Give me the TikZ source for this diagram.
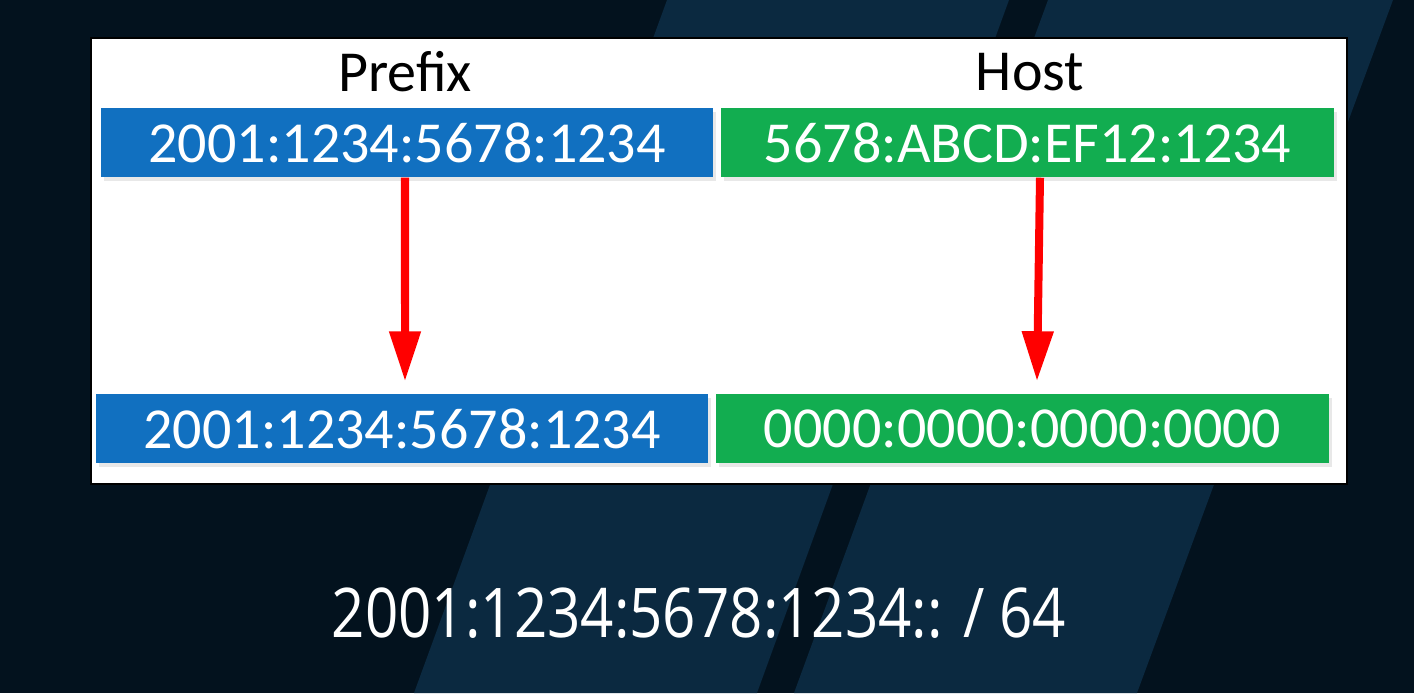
\documentclass[tikz,border=0pt]{standalone}
\usepackage{fontspec}
\setmainfont{Carlito}
\newfontfamily\notefont[FakeStretch=0.85]{Open Sans}
\usepackage{xcolor}
\usetikzlibrary{arrows.meta,shadows}
\definecolor{IPNight}{HTML}{03121E}
\definecolor{IPBand}{HTML}{0B2940}
\definecolor{IPBlue}{HTML}{1170C0}
\definecolor{IPGreen}{HTML}{12AD50}
\definecolor{IPRed}{HTML}{FF0000}

\begin{document}
\begin{tikzpicture}[x=0.01cm,y=-0.01cm,
  part/.style={font=\fontsize{16.5}{18}\selectfont},
  field/.style={minimum width=6.12cm,minimum height=0.69cm,inner sep=0pt,
    text=white,font=\fontsize{16.5}{18}\selectfont,
    drop shadow={opacity=0.18,shadow xshift=0.03cm,shadow yshift=-0.04cm}},
  keep/.style={line width=0.08cm,IPRed,-{Triangle[width=0.3cm,length=0.5cm]}}]
\path[use as bounding box] (0,0) rectangle (1414,693);
% background
\fill[IPNight] (0,0) rectangle (1414,693);
\fill[IPBand] (667,0) -- (1009,0) -- (757,693) -- (414,693) -- cycle;
\fill[IPBand] (1048,0) -- (1393,0) -- (1137,693) -- (794,693) -- cycle;
% panel
\filldraw[fill=white,draw=black,line width=0.02cm] (91,38) rectangle (1347,484);
\node[part] (prefix) at (405,72) {Prefix};
\node[part] (host) at (1030,72) {Host};
\node[field,fill=IPBlue] (ptop) at (407,142.5) {2001:1234:5678:1234};
\node[field,fill=IPGreen] (htop) at (1027.5,142.5) {5678:ABCD:EF12:1234};
\node[field,fill=IPBlue] (pbot) at (402,428.5) {2001:1234:5678:1234};
\node[field,fill=IPGreen] (hbot) at (1022.5,428.5) {0000:0000:0000:0000};
\draw[keep] ([xshift=-0.02cm]ptop.south) -- ([xshift=0.03cm,yshift=0.12cm]pbot.north);
\draw[keep] ([xshift=0.125cm]htop.south) -- ([xshift=0.145cm,yshift=0.12cm]hbot.north);
% result
\node[text=white,font=\notefont\fontsize{19.5}{22}\selectfont] (short) at (699,613) {2001:1234:5678:1234:: / 64};
\end{tikzpicture}
\end{document}
